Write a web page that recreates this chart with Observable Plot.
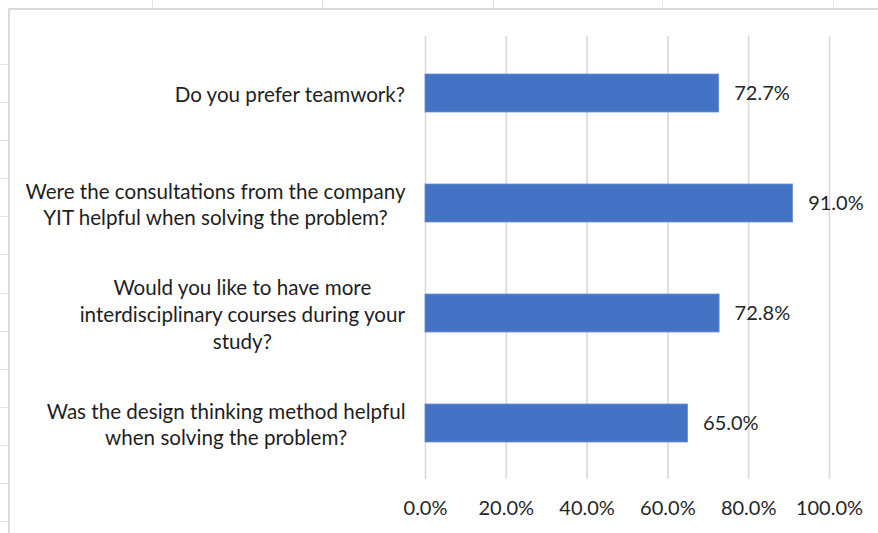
<!DOCTYPE html>
<html>
<head>
<meta charset="utf-8">
<script src="https://cdn.jsdelivr.net/npm/d3@7"></script>
<script src="https://cdn.jsdelivr.net/npm/@observablehq/plot@0.6"></script>
<style>
  html, body { margin: 0; padding: 0; background: #fff; }
  #wrap { position: relative; width: 878px; height: 533px; overflow: hidden; }
  .deco { position: absolute; background: #e2e2e2; }
  #frame { position: absolute; left: 8px; top: 8px; width: 900px; height: 560px;
           border-left: 2px solid #dadada; border-top: 2px solid #dadada; box-sizing: border-box; }
  #chart { position: absolute; left: 0; top: 0; }
</style>
</head>
<body>
<div id="wrap">
  <div id="frame"></div>
  <div id="chart"></div>
</div>
<script>
// ---- data ----
const questions = [
  "Do you prefer teamwork?",
  "Were the consultations from the company\nYIT helpful when solving the problem?",
  "Would you like to have more\ninterdisciplinary courses during your\nstudy?",
  "Was the design thinking method helpful\nwhen solving the problem?"
];
const values = [0.727, 0.910, 0.728, 0.650];
const xTicks = [0, 0.2, 0.4, 0.6, 0.8, 1.0];

const data = questions.map((q, i) => ({question: q, value: values[i]}));

// ---- background decoration (spreadsheet cell lines) ----
const wrap = document.getElementById("wrap");
[152, 322, 493, 662, 833].forEach(x => {
  const d = document.createElement("div");
  d.className = "deco";
  Object.assign(d.style, {left: x + "px", top: "0px", width: "1px", height: "8px"});
  wrap.appendChild(d);
});
for (let y = 64; y < 533; y += 38.1) {
  const d = document.createElement("div");
  d.className = "deco";
  Object.assign(d.style, {left: "0px", top: Math.round(y) + "px", width: "8px", height: "1px"});
  wrap.appendChild(d);
}

// ---- chart ----
const FONT = "Lato, 'Open Sans', sans-serif";
const FS = 20;
const LFS = 20.6;
const ctx = document.createElement("canvas").getContext("2d");
ctx.font = `${LFS}px Lato`;
const textWidth = s => d3.max(s.split("\n"), l => ctx.measureText(l).width);
const fmt = d3.format(".1%");

const labelMarks = data.map(d =>
  Plot.text([d], {
    x: () => 0, y: "question", text: "question",
    textAnchor: "middle", lineAnchor: "middle", lineHeight: 1.3,
    dx: -(20 + textWidth(d.question) / 2),
    fill: "#1e1e1e", fontSize: LFS
  })
);

const chart = Plot.plot({
  width: 878,
  height: 533,
  marginLeft: 425,
  marginRight: 49,
  marginTop: 36,
  marginBottom: 54,
  style: {fontFamily: FONT, fontSize: FS + "px", color: "#262626", background: "transparent", overflow: "visible"},
  x: {domain: [0, 1], label: null},
  y: {domain: questions, paddingInner: 0.657, paddingOuter: 0.3285, axis: null},
  marks: [
    Plot.gridX(xTicks, {stroke: "#d9d9d9", strokeOpacity: 1, strokeWidth: 1.6}),
    Plot.axisX({ticks: xTicks, tickFormat: fmt, tickSize: 0, tickPadding: 21, fontSize: FS, fill: "#262626", label: null}),
    Plot.barX(data, {x: "value", y: "question", fill: "#4472C4", stroke: "#6d91d2", strokeWidth: 0.8}),
    Plot.text(data, {x: "value", y: "question", text: d => fmt(d.value), textAnchor: "start", dx: 15, fill: "#262626", fontSize: FS}),
    ...labelMarks
  ]
});
document.getElementById("chart").appendChild(chart);
</script>
</body>
</html>
